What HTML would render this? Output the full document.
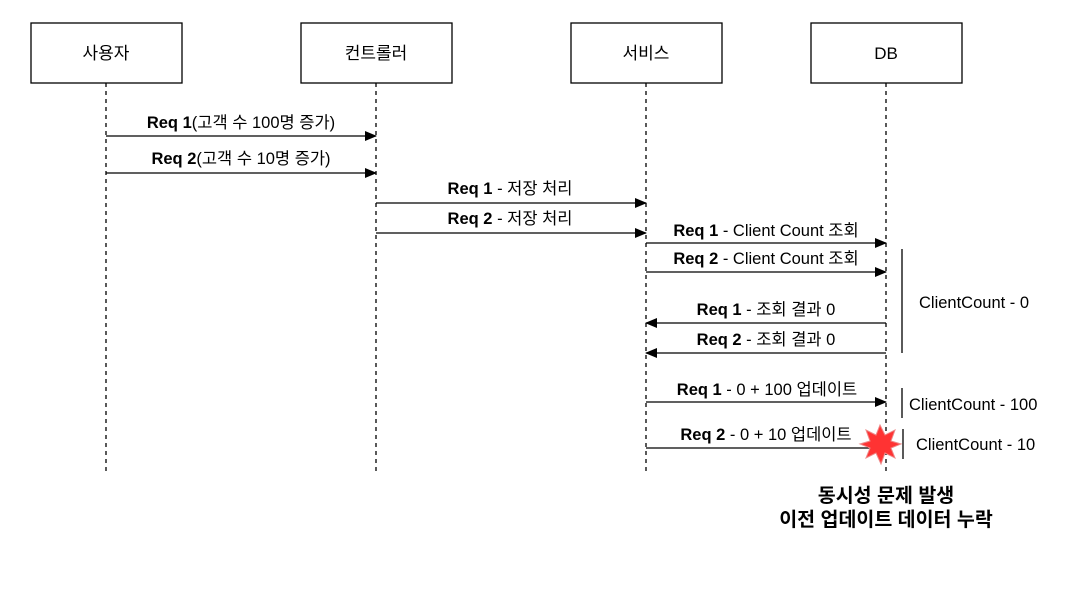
<!DOCTYPE html>
<html><head><meta charset="utf-8"><style>
html,body{margin:0;padding:0;background:#fff;}
svg text{font-family:"Liberation Sans","Noto Sans CJK KR",sans-serif;font-size:16.5px;fill:#000;}
</style></head><body>
<svg width="1091" height="596" viewBox="0 0 1091 596" xmlns="http://www.w3.org/2000/svg">
<defs>
<marker id="a" markerWidth="12" markerHeight="10" refX="11" refY="5" orient="auto" markerUnits="userSpaceOnUse">
<path d="M0,0 L12,5 L0,10 Z" fill="#000"/></marker>
</defs>
<g fill="#fff" stroke="#000" stroke-width="1.3">
<rect x="31" y="23" width="151" height="60"/>
<rect x="301" y="23" width="151" height="60"/>
<rect x="571" y="23" width="151" height="60"/>
<rect x="811" y="23" width="151" height="60"/>
</g>
<g text-anchor="middle">
<text x="106" y="59" style="font-size:17px">사용자</text>
<text x="376" y="59" style="font-size:17px">컨트롤러</text>
<text x="646" y="59" style="font-size:17px">서비스</text>
<text x="886" y="59" style="font-size:17px">DB</text>
</g>
<g stroke="#000" stroke-width="1.3" stroke-dasharray="4,4">
<line x1="106" y1="83" x2="106" y2="474"/>
<line x1="376" y1="83" x2="376" y2="474"/>
<line x1="646" y1="83" x2="646" y2="474"/>
<line x1="886" y1="83" x2="886" y2="474"/>
</g>
<g stroke="#000" stroke-width="1.3" marker-end="url(#a)">
<line x1="106" y1="136" x2="376" y2="136"/>
<line x1="106" y1="173" x2="376" y2="173"/>
<line x1="376" y1="203" x2="646" y2="203"/>
<line x1="376" y1="233" x2="646" y2="233"/>
<line x1="646" y1="243" x2="886" y2="243"/>
<line x1="646" y1="272" x2="886" y2="272"/>
<line x1="886" y1="323" x2="646" y2="323"/>
<line x1="886" y1="353" x2="646" y2="353"/>
<line x1="646" y1="402" x2="886" y2="402"/>
<line x1="646" y1="448" x2="882" y2="448"/>
</g>
<g text-anchor="middle">
<text x="241" y="128"><tspan font-weight="bold">Req 1</tspan>(고객 수 100명 증가)</text>
<text x="241" y="164"><tspan font-weight="bold">Req 2</tspan>(고객 수 10명 증가)</text>
<text x="510" y="194"><tspan font-weight="bold">Req 1</tspan> - 저장 처리</text>
<text x="510" y="224"><tspan font-weight="bold">Req 2</tspan> - 저장 처리</text>
<text x="766" y="236"><tspan font-weight="bold">Req 1</tspan> - Client Count 조회</text>
<text x="766" y="264"><tspan font-weight="bold">Req 2</tspan> - Client Count 조회</text>
<text x="766" y="315"><tspan font-weight="bold">Req 1</tspan> - 조회 결과 0</text>
<text x="766" y="345"><tspan font-weight="bold">Req 2</tspan> - 조회 결과 0</text>
<text x="767" y="395"><tspan font-weight="bold">Req 1</tspan> - 0 + 100 업데이트</text>
<text x="766" y="440"><tspan font-weight="bold">Req 2</tspan> - 0 + 10 업데이트</text>
</g>
<g stroke="#000" stroke-width="1.3">
<line x1="902" y1="249" x2="902" y2="353"/>
<line x1="902" y1="388" x2="902" y2="418"/>
<line x1="903" y1="429" x2="903" y2="459"/>
</g>
<text x="919" y="308">ClientCount - 0</text>
<text x="909" y="410">ClientCount - 100</text>
<text x="916" y="450">ClientCount - 10</text>
<polygon fill="#f33" stroke="#e88" stroke-width="1" points="880,425 885,435 895,430 891,441 901,444 891,448 895,458 885,453 881,464 876,453 866,458 870,448 860,444 870,441 866,430 876,435"/>
<g text-anchor="middle">
<text x="886" y="502" font-weight="bold" style="font-size:19.5px">동시성 문제 발생</text>
<text x="886" y="526" font-weight="bold" style="font-size:19.5px">이전 업데이트 데이터 누락</text>
</g>
</svg>
</body></html>
